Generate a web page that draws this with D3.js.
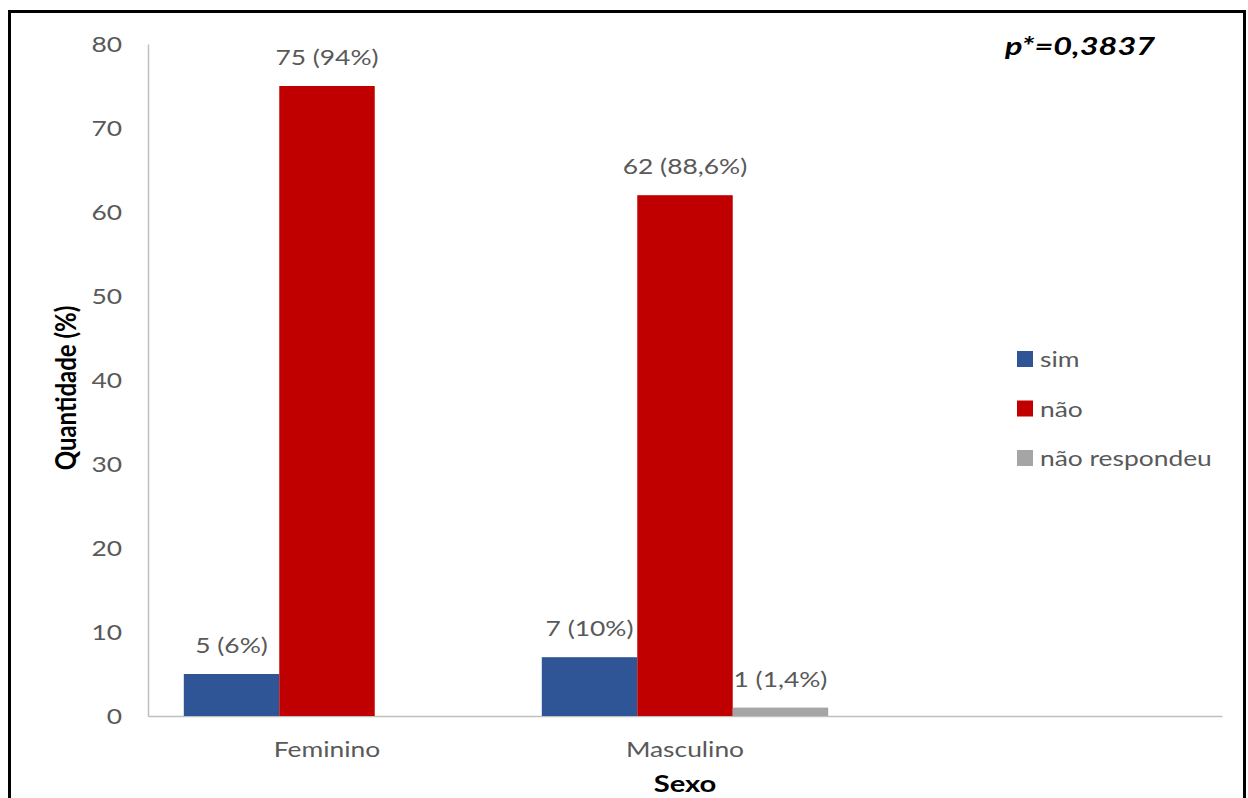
<!DOCTYPE html>
<html><head><meta charset="utf-8">
<script src="https://cdn.jsdelivr.net/npm/d3@7"></script>
<style>body{margin:0;background:#fff}svg{display:block}text{font-family:Lato,"Open Sans",sans-serif}</style>
</head><body><svg id="c" width="1248" height="798"></svg>
<script>
const categories = ["Feminino", "Masculino", ""];
const seriesNames = ["sim", "não", "não respondeu"];
const seriesColors = ["#2F5597", "#C00000", "#A5A5A5"];
const simValues = [5, 7, null];
const naoValues = [75, 62, null];
const naoRespValues = [0, 1, null];
const simLabels = ["5 (6%)", "7 (10%)", ""];
const naoLabels = ["75 (94%)", "62 (88,6%)", ""];
const naoRespLabels = ["", "1 (1,4%)", ""];
const yTicks = [0, 10, 20, 30, 40, 50, 60, 70, 80];
const pText = "p*=0,3837";

const SX = 1.2; // horizontal stretch of the reference text
const svg = d3.select("#c");
const m = {left:148, right:1222, top:44, bottom:716};
const x = d3.scaleBand().domain(categories).range([m.left, m.right]).paddingInner(0.2).paddingOuter(0.1);
const xs = d3.scaleBand().domain(seriesNames).range([0, x.bandwidth()]);
const y = d3.scaleLinear().domain([0, 80]).range([m.bottom, m.top]);

function stext(g, px, py, sx) {
  return g.append("text").attr("transform", `translate(${px},${py}) scale(${sx||SX},1)`);
}

// border
svg.append("rect").attr("x",9.5).attr("y",11.5).attr("width",1235).attr("height",800)
  .attr("fill","none").attr("stroke","#000").attr("stroke-width",3);

// y axis
const ya = svg.append("g").attr("transform",`translate(${m.left},0)`)
  .call(d3.axisLeft(y).tickValues(yTicks).tickSize(0).tickPadding(26));
ya.select(".domain").attr("stroke","#BFBFBF").attr("stroke-width",1.5);
ya.selectAll("text").attr("font-size",22).attr("fill","#595959")
  .attr("x", -26/SX).attr("transform",`scale(${SX},1)`);

// x axis
const xa = svg.append("g").attr("transform",`translate(0,${m.bottom})`)
  .call(d3.axisBottom(x).tickSize(0).tickPadding(25));
xa.select(".domain").attr("stroke","#BFBFBF").attr("stroke-width",1.5);
xa.selectAll("text").attr("font-size",22).attr("fill","#595959").attr("transform",`scale(${SX},1)`);

const series = [
  {name:seriesNames[0], values:simValues, labels:simLabels, color:seriesColors[0]},
  {name:seriesNames[1], values:naoValues, labels:naoLabels, color:seriesColors[1]},
  {name:seriesNames[2], values:naoRespValues, labels:naoRespLabels, color:seriesColors[2]}
];
const rows = [];
series.forEach(s => categories.forEach((c,i) => {
  if (s.values[i] != null) rows.push({cat:c, name:s.name, v:s.values[i], label:s.labels[i], color:s.color});
}));

svg.append("g").selectAll("rect").data(rows).join("rect")
  .attr("x", d => x(d.cat) + xs(d.name))
  .attr("y", d => y(d.v))
  .attr("width", xs.bandwidth())
  .attr("height", d => y(0) - y(d.v))
  .attr("fill", d => d.color);

svg.append("g").selectAll("text").data(rows.filter(d => d.label)).join("text")
  .attr("transform", d => `translate(${x(d.cat) + xs(d.name) + xs.bandwidth()/2},${y(d.v) - 21}) scale(${SX},1)`)
  .attr("text-anchor","middle").attr("font-size",22).attr("fill","#595959")
  .text(d => d.label);

// axis titles
svg.append("text").attr("transform",`translate(76,388) scale(${SX},1) rotate(-90)`)
  .attr("text-anchor","middle").attr("font-size",24).attr("font-weight","bold").attr("fill","#000")
  .text("Quantidade (%)");
stext(svg, 685, 792, 1.27).attr("text-anchor","middle")
  .attr("font-size",23).attr("font-weight","bold").attr("fill","#000").text("Sexo");

// p value
stext(svg, 1005, 55, 1.3).attr("font-size",25)
  .attr("font-weight","bold").attr("font-style","italic").attr("fill","#000").text(pText);

// legend
const lg = svg.append("g").selectAll("g").data(series).join("g")
  .attr("transform",(d,i)=>`translate(1017,${351 + i*49.5})`);
lg.append("rect").attr("width",16).attr("height",16).attr("fill",d=>d.color);
lg.append("text").attr("transform",`translate(23,16) scale(${SX},1)`).attr("font-size",22).attr("fill","#595959").text(d=>d.name);
</script></body></html>
